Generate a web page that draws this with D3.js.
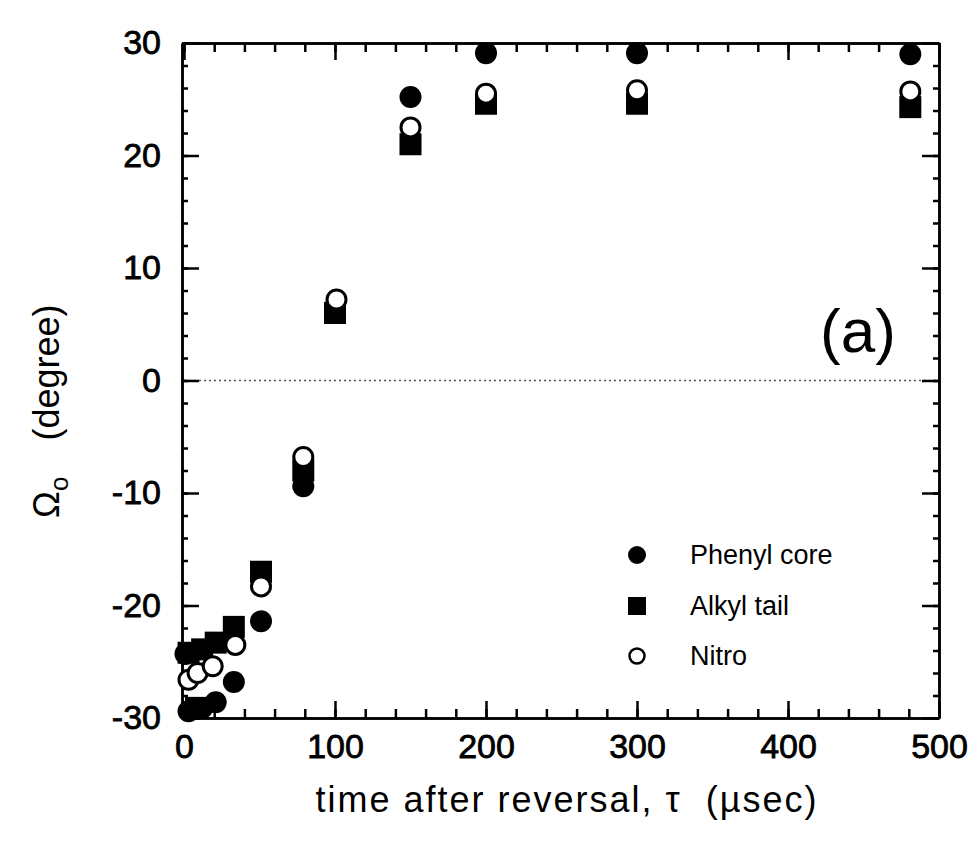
<!DOCTYPE html>
<html>
<head>
<meta charset="utf-8">
<script src="https://cdn.jsdelivr.net/npm/d3@7"></script>
<style>
  body { margin: 0; background: #fff; }
  text { font-family: "Liberation Sans", Arial, sans-serif; fill: #000; }
</style>
</head>
<body>
<div id="chart"></div>
<script>
// data
const phenylCore = [[1, -24.3], [3, -29.4], [12, -29.1], [21, -28.6], [33, -26.8], [51, -21.4],
    [79, -9.4], [100, 6.5], [150, 25.2], [200, 29.1], [300, 29.1], [481, 29.0]];
const alkylTail = [[3, -24.2], [8, -29.1], [12, -23.9], [21, -23.3], [33, -21.9], [51, -17.0],
    [79, -8.0], [100, 6.0], [150, 21.0], [200, 24.6], [300, 24.6], [481, 24.3]];
const nitro = [[3, -26.6], [9, -26.0], [19, -25.4], [34, -23.5], [51, -18.3], [79, -6.8],
    [101, 7.2], [150, 22.5], [200, 25.5], [300, 25.8], [481, 25.7]];
const xTicks = [0, 100, 200, 300, 400, 500];
const yTicks = [-30, -20, -10, 0, 10, 20, 30];
const legendNames = ['Phenyl core', 'Alkyl tail', 'Nitro'];

const svg = d3.select('#chart')
    .append('svg')
    .attr('width', 973)
    .attr('height', 849);

const x = d3.scaleLinear().domain([0, 500]).range([184, 939]);
const y = d3.scaleLinear().domain([-30, 30]).range([718, 43]);

// zero line
svg.append('line')
    .attr('x1', x(0)).attr('x2', x(500))
    .attr('y1', y(0)).attr('y2', y(0))
    .attr('stroke', '#555')
    .attr('stroke-width', 1.5)
    .attr('stroke-dasharray', '2,3');

function styleAxis(g) {
    g.selectAll('path, line').attr('stroke', '#000').attr('stroke-width', 2.5);
    g.selectAll('text')
        .style('font-size', '34px')
        .style('font-family', '"Liberation Sans", Arial, sans-serif')
        .attr('fill', '#000')
        .attr('stroke', '#000')
        .attr('stroke-width', 0.8);
}

const xMinor = d3.range(0, 501, 20);
const yMinor = d3.range(-30, 31, 2);
const plain = d => String(d);

// bottom
svg.append('g')
    .attr('transform', `translate(0, ${y(-30)})`)
    .call(d3.axisBottom(x).tickValues(xMinor).tickSize(-9).tickSizeOuter(0).tickFormat(''))
    .call(styleAxis);
svg.append('g')
    .attr('transform', `translate(0, ${y(-30)})`)
    .call(d3.axisBottom(x).tickValues(xTicks).tickSize(-17).tickSizeOuter(0).tickPadding(16).tickFormat(plain))
    .call(styleAxis);
// top
svg.append('g')
    .attr('transform', `translate(0, ${y(30)})`)
    .call(d3.axisTop(x).tickValues(xMinor).tickSize(-9).tickSizeOuter(0).tickFormat(''))
    .call(styleAxis);
svg.append('g')
    .attr('transform', `translate(0, ${y(30)})`)
    .call(d3.axisTop(x).tickValues(xTicks).tickSize(-17).tickSizeOuter(0).tickFormat(''))
    .call(styleAxis);
// left
svg.append('g')
    .attr('transform', `translate(${x(0) - 2}, 0)`)
    .call(d3.axisLeft(y).tickValues(yMinor).tickSize(-6).tickSizeOuter(0).tickFormat(''))
    .call(styleAxis);
svg.append('g')
    .attr('transform', `translate(${x(0) - 2}, 0)`)
    .call(d3.axisLeft(y).tickValues(yTicks).tickSize(-17).tickSizeOuter(0).tickPadding(21).tickFormat(plain))
    .call(styleAxis);
// right
svg.append('g')
    .attr('transform', `translate(${x(500)}, 0)`)
    .call(d3.axisRight(y).tickValues(yMinor).tickSize(-6).tickSizeOuter(0).tickFormat(''))
    .call(styleAxis);
svg.append('g')
    .attr('transform', `translate(${x(500)}, 0)`)
    .call(d3.axisRight(y).tickValues(yTicks).tickSize(-17).tickSizeOuter(0).tickFormat(''))
    .call(styleAxis);

// markers
const r = 11;
svg.append('g').selectAll('circle')
    .data(phenylCore)
    .enter()
    .append('circle')
    .attr('cx', d => x(d[0]))
    .attr('cy', d => y(d[1]))
    .attr('r', r)
    .attr('fill', '#000');

svg.append('g').selectAll('rect')
    .data(alkylTail)
    .enter()
    .append('rect')
    .attr('x', d => x(d[0]) - r)
    .attr('y', d => y(d[1]) - r)
    .attr('width', 2 * r)
    .attr('height', 2 * r)
    .attr('fill', '#000');

svg.append('g').selectAll('circle')
    .data(nitro)
    .enter()
    .append('circle')
    .attr('cx', d => x(d[0]))
    .attr('cy', d => y(d[1]))
    .attr('r', r - 1.5)
    .attr('fill', '#fff')
    .attr('stroke', '#000')
    .attr('stroke-width', 3);

// legend
const legend = svg.append('g');
const rowY = [555, 606, 656];
legend.append('circle').attr('cx', 637).attr('cy', rowY[0]).attr('r', 9).attr('fill', '#000');
legend.append('rect').attr('x', 628).attr('y', rowY[1] - 9).attr('width', 18).attr('height', 18).attr('fill', '#000');
legend.append('circle').attr('cx', 637).attr('cy', rowY[2]).attr('r', 7.5)
    .attr('fill', '#fff').attr('stroke', '#000').attr('stroke-width', 2.5);
legend.selectAll('text')
    .data(legendNames)
    .enter()
    .append('text')
    .attr('x', 690)
    .attr('y', (d, i) => rowY[i] + 9)
    .style('font-size', '27px')
    .text(d => d);

// panel label
svg.append('text')
    .attr('x', 820)
    .attr('y', 352)
    .style('font-size', '62px')
    .text('(a)');

// axis titles
svg.append('text')
    .attr('x', 567)
    .attr('y', 812)
    .attr('text-anchor', 'middle')
    .style('font-size', '36px')
    .style('letter-spacing', '2px')
    .style('white-space', 'pre')
    .text('time after reversal, \u03c4  (\u00b5sec)');

const yTitle = svg.append('text')
    .attr('transform', 'translate(59, 518) rotate(-90)')
    .style('font-size', '36px')
    .style('white-space', 'pre');
yTitle.append('tspan').text('\u03a9');
yTitle.append('tspan').attr('dy', 9).style('font-size', '26px').text('o');
yTitle.append('tspan').attr('dy', -9).attr('dx', 36).text('(degree)');
</script>
</body>
</html>
